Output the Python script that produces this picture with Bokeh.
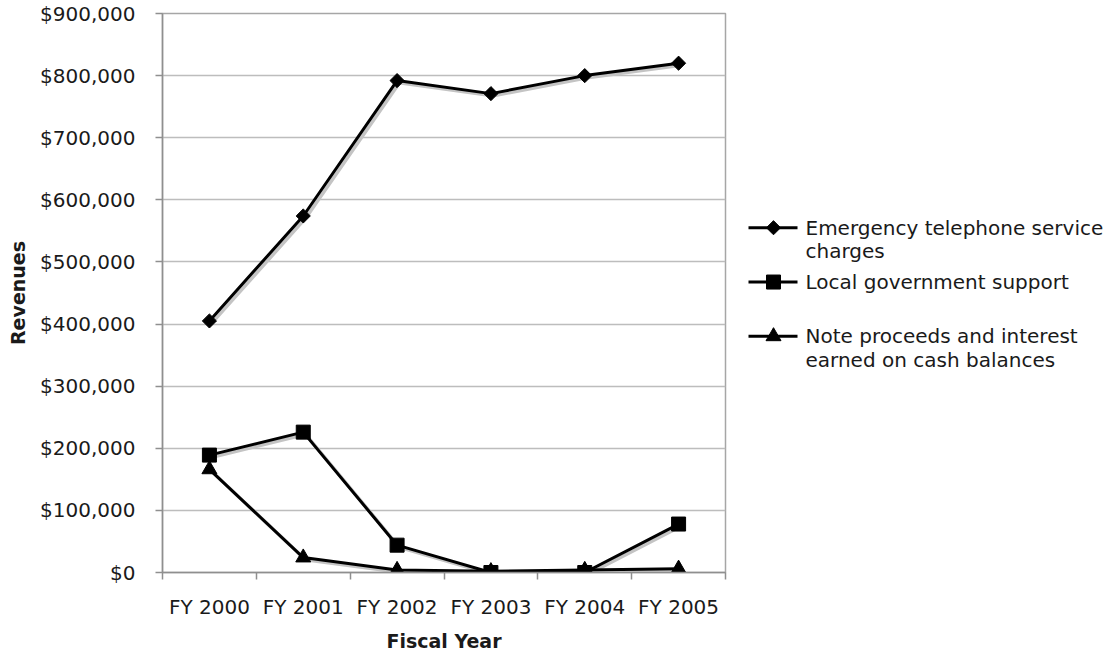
from bokeh.plotting import figure
from bokeh.layouts import row
from bokeh.models import ColumnDataSource, FixedTicker, NumeralTickFormatter, Range1d
from bokeh.core.properties import value
from bokeh.transform import dodge
from bokeh.embed import file_html
from bokeh.resources import INLINE

# Revenue sources by fiscal year (dollars)
years = ["FY 2000", "FY 2001", "FY 2002", "FY 2003", "FY 2004", "FY 2005"]
emergency = [405000, 574000, 792000, 771000, 800000, 820000]
local_gov = [189000, 226000, 44000, 0, 0, 78000]
note_interest = [166000, 24000, 4000, 2000, 4000, 6000]
y_ticks = [0, 100000, 200000, 300000, 400000, 500000, 600000, 700000, 800000, 900000]

labels = [
    "Emergency telephone service\ncharges",
    "Local government support",
    "Note proceeds and interest\nearned on cash balances",
]

FONT = "DejaVu Sans"
TEXT = "#1a1a1a"
AXIS = "#8f8f8f"
H = 654
TOP, BOTTOM = 13, 80

# category centres on a numeric axis so tick marks can sit between categories
xs = [i + 0.5 for i in range(len(years))]
source = ColumnDataSource(dict(x=xs, emergency=emergency, local=local_gov, note=note_interest))

p = figure(width=727, height=H, output_backend="svg", toolbar_location=None,
           x_range=Range1d(0, len(years)), y_range=Range1d(0, y_ticks[-1]),
           min_border_left=162, min_border_right=2, min_border_top=TOP,
           min_border_bottom=BOTTOM)
p.background_fill_color = "white"
p.border_fill_color = "white"
p.outline_line_color = "#a6a6a6"
p.outline_line_width = 1.5

# axes
yax = p.yaxis[0]
yax.ticker = FixedTicker(ticks=y_ticks)
yax.formatter = NumeralTickFormatter(format="$0,0")
yax.major_tick_out = 7
yax.major_tick_in = 0
yax.minor_tick_line_color = None
yax.axis_line_color = AXIS
yax.axis_line_width = 1.5
yax.major_tick_line_color = AXIS
yax.major_tick_line_width = 1.5
yax.major_label_text_font = FONT
yax.major_label_text_font_size = "20px"
yax.major_label_text_color = TEXT
yax.major_label_standoff = 20
yax.axis_label = "Revenues"
yax.axis_label_text_font = FONT
yax.axis_label_text_font_style = "bold"
yax.axis_label_text_font_size = "19px"
yax.axis_label_text_color = TEXT
yax.axis_label_standoff = 8

xax = p.xaxis[0]
xax.ticker = FixedTicker(ticks=xs, minor_ticks=list(range(len(years) + 1)))
xax.major_label_overrides = {x: y for x, y in zip(xs, years)}
xax.major_tick_line_color = None
xax.minor_tick_out = 7
xax.minor_tick_in = 0
xax.minor_tick_line_color = AXIS
xax.minor_tick_line_width = 1.5
xax.axis_line_color = AXIS
xax.axis_line_width = 1.5
xax.major_label_text_font = FONT
xax.major_label_text_font_size = "20px"
xax.major_label_text_color = TEXT
xax.major_label_standoff = 15
xax.axis_label = "Fiscal Year"
xax.axis_label_text_font = FONT
xax.axis_label_text_font_style = "bold"
xax.axis_label_text_font_size = "19px"
xax.axis_label_text_color = TEXT
xax.axis_label_standoff = 8

p.xgrid.grid_line_color = None
p.ygrid.grid_line_color = "#bdbdbd"
p.ygrid.grid_line_width = 1.5
p.ygrid.ticker = FixedTicker(ticks=y_ticks)

# soft drop shadow under each series
for col in ["emergency", "local", "note"]:
    p.line(x=dodge("x", 0.025, range=p.x_range), y=dodge(col, -3500, range=p.y_range),
           source=source, line_color="#c4c4c4", line_width=3.5)

# marker style per series: (column, marker, size, angle)
specs = [("emergency", "square", 10, 0.785398), ("local", "square", 14, 0.0),
         ("note", "triangle", 15, 0.0)]
for col, marker, size, ang in specs:
    p.line("x", col, source=source, line_color="black", line_width=3)
    p.scatter("x", col, source=source, marker=marker, size=size, angle=ang,
              fill_color="black", line_color="black")

# legend panel to the right of the chart; its frame lines up with the chart's,
# so the ranges are set to page pixels
lg = figure(width=1112 - 727, height=H, output_backend="svg", toolbar_location=None,
            x_range=Range1d(727, 1112), y_range=Range1d(H - BOTTOM, TOP),
            min_border_left=0, min_border_right=0, min_border_top=TOP,
            min_border_bottom=BOTTOM, outline_line_color=None)
lg.axis.visible = False
lg.grid.grid_line_color = None
lg.background_fill_color = "white"
lg.border_fill_color = "white"

item_y = [228 + 54.5 * i for i in range(len(labels))]
for (col, marker, size, ang), lab, yy in zip(specs, labels, item_y):
    lg.line([748, 797], [yy, yy], line_color="black", line_width=3)
    lg.scatter([773], [yy], marker=marker, size=size, angle=ang,
               fill_color="black", line_color="black")
    lines = lab.split("\n")
    lg.text([805] * len(lines), [yy + 23.5 * k for k in range(len(lines))], text=lines,
            text_font=value(FONT), text_font_size="20px", text_color=TEXT,
            text_baseline="middle", text_align="left")

layout = row(p, lg, spacing=0)
open("out.html", "w").write(file_html(layout, INLINE))
